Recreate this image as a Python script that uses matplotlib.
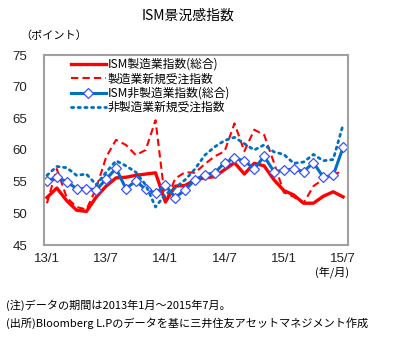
import matplotlib
matplotlib.use("Agg")
import matplotlib.pyplot as plt
import numpy as np

plt.rcParams['font.family'] = ['Noto Sans CJK JP', 'DejaVu Sans']

# months from 2013/1 to 2015/7
months = np.arange(31)
tick_pos = [0, 6, 12, 18, 24, 30]
tick_labels = ['13/1', '13/7', '14/1', '14/7', '15/1', '15/7']

# ISM manufacturing (composite)
ism_mfg = [52.5, 54.0, 52.0, 50.5, 50.3, 52.6, 54.3, 55.6, 55.7, 56.0, 56.2, 56.4,
           51.8, 54.3, 54.4, 55.3, 55.6, 55.8, 56.9, 58.0, 56.2, 57.9, 57.5, 55.3,
           53.6, 52.9, 51.6, 51.6, 52.7, 53.4, 52.6]
# manufacturing new orders
mfg_orders = [51.6, 57.0, 52.5, 51.0, 50.6, 54.0, 58.9, 61.6, 60.8, 59.2, 60.0, 64.7,
              51.8, 55.5, 56.5, 56.4, 57.8, 59.0, 59.8, 64.2, 59.8, 63.2, 62.4, 58.0,
              53.3, 52.6, 51.6, 54.3, 55.4, 56.2, 56.6]
# ISM non-manufacturing (composite)
ism_nonmfg = [55.1, 55.7, 55.0, 53.9, 53.9, 53.7, 55.4, 57.1, 53.9, 55.1, 53.8, 53.2,
              54.4, 52.5, 53.7, 55.3, 56.1, 56.4, 58.0, 58.7, 58.3, 57.0, 59.0, 56.6,
              56.8, 57.0, 56.6, 58.0, 55.7, 56.0, 60.4]
# non-manufacturing new orders
nonmfg_orders = [56.0, 57.4, 57.2, 56.0, 56.2, 54.5, 56.5, 58.3, 57.5, 56.5, 54.5, 51.0,
                 53.0, 54.0, 55.3, 57.0, 59.2, 60.5, 61.5, 62.0, 61.0, 60.0, 60.8, 59.7,
                 59.3, 57.9, 58.1, 59.3, 58.3, 58.5, 64.0]

red = '#ff0000'
blue = '#0070c0'

fig = plt.figure(figsize=(3.94, 3.39), dpi=100)
ax = fig.add_axes([44/394, 1 - 245/339, 304/394, 190/339])

ax.plot(months, ism_mfg, color=red, lw=2.4, label='ISM製造業指数(総合)')
ax.plot(months, mfg_orders, color=red, lw=1.5, dashes=(3.5, 2), label='製造業新規受注指数')
ax.plot(months, ism_nonmfg, color=blue, lw=2.2, marker='D', ms=5.5,
        mfc='white', mec='#3c50ff', mew=0.9, label='ISM非製造業指数(総合)')
ax.plot(months, nonmfg_orders, color=blue, lw=2.0, ls=(0, (0.8, 1.6)),
        dash_capstyle='round', label='非製造業新規受注指数')

ax.set_xlim(-0.3, 30.5)
ax.set_ylim(45, 75)
ax.set_yticks(range(45, 80, 5))
ax.set_xticks(tick_pos)
ax.set_xticklabels(tick_labels)
ax.tick_params(length=0, labelsize=9.5, labelcolor='#222222')
ax.tick_params(axis='y', pad=12)
ax.tick_params(axis='x', pad=6)
for lab in ax.get_xticklabels() + ax.get_yticklabels():
    lab.set_family(['Liberation Sans', 'DejaVu Sans'])
for s in ax.spines.values():
    s.set_color('#a0a0a0')
    s.set_linewidth(1.5)

ax.legend(loc='upper left', bbox_to_anchor=(0.09, 0.985), frameon=False,
          fontsize=8.5, handlelength=2.9, handletextpad=0.2, labelspacing=0.12,
          borderpad=0, borderaxespad=0)

fig.text(188/394, 1 - 16/339, 'ISM景況感指数', ha='center', va='center', fontsize=10)
fig.text(20/394, 1 - 36/339, '（ポイント）', ha='left', va='center', fontsize=8)
fig.text(332/394, 1 - 272/339, '(年/月)', ha='center', va='center', fontsize=8)
fig.text(6/394, 1 - 305/339, '(注)データの期間は2013年1月～2015年7月。',
         ha='left', va='center', fontsize=8)
fig.text(6/394, 1 - 323/339, '(出所)Bloomberg L.Pのデータを基に三井住友アセットマネジメント作成',
         ha='left', va='center', fontsize=8)

fig.savefig('out.png', dpi=100)
